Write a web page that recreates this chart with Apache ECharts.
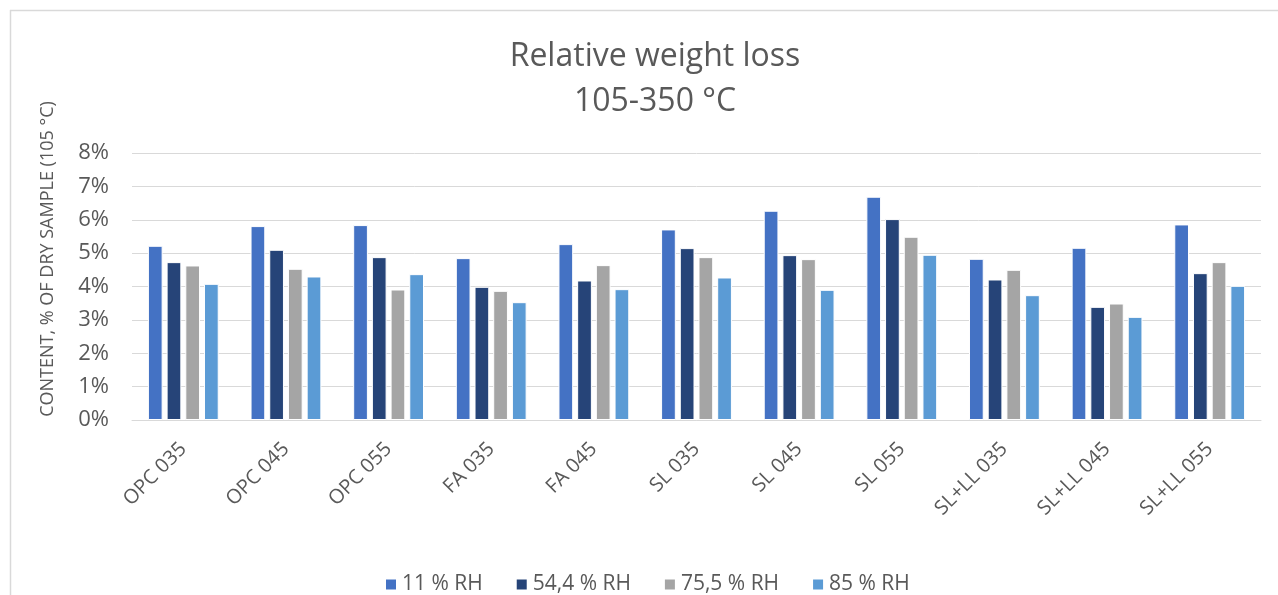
<!DOCTYPE html>
<html>
<head>
<meta charset="utf-8">
<script src="https://cdn.jsdelivr.net/npm/echarts@6/dist/echarts.min.js"></script>
<style>
html,body{margin:0;padding:0;background:#fff;}
#main{width:1278px;height:595px;}
</style>
</head>
<body>
<div id="main"></div>
<script>
var categories = ['OPC 035','OPC 045','OPC 055','FA 035','FA 045','SL 035','SL 045','SL 055','SL+LL 035','SL+LL 045','SL+LL 055'];
var seriesNames = ['11 % RH','54,4 % RH','75,5 % RH','85 % RH'];
var rh11  = [5.22, 5.81, 5.84, 4.85, 5.27, 5.71, 6.27, 6.69, 4.83, 5.16, 5.86];
var rh544 = [4.73, 5.10, 4.88, 3.99, 4.18, 5.15, 4.94, 6.02, 4.21, 3.39, 4.40];
var rh755 = [4.63, 4.53, 3.91, 3.87, 4.64, 4.88, 4.82, 5.49, 4.50, 3.49, 4.73];
var rh85  = [4.08, 4.30, 4.37, 3.53, 3.92, 4.27, 3.90, 4.95, 3.74, 3.09, 4.02];
var yTicks = [0,1,2,3,4,5,6,7,8];
var colors = ['#4472C4','#264478','#A5A5A5','#5B9BD5'];
var allData = [rh11, rh544, rh755, rh85];

var FONT = 'Open Sans';
var TXT = '#595959';

var chart = echarts.init(document.getElementById('main'));
chart.setOption({
  animation: false,
  color: colors,
  textStyle: {fontFamily: FONT, color: TXT},
  title: {
    text: 'Relative weight loss\n105-350 °C',
    left: 650,
    textAlign: 'center',
    top: 29,
    textStyle: {fontFamily: FONT, fontSize: 32, fontWeight: 'normal', color: TXT, lineHeight: 45}
  },
  graphic: [
    {type: 'line', shape: {x1: 10.5, y1: 10, x2: 10.5, y2: 595}, style: {stroke: '#d9d9d9', lineWidth: 1.5}},
    {type: 'line', shape: {x1: 10, y1: 10.5, x2: 1278, y2: 10.5}, style: {stroke: '#d9d9d9', lineWidth: 1.5}},
    {type: 'text', x: 48, y: 259, rotation: Math.PI / 2,
     style: {text: 'CONTENT, % OF DRY SAMPLE (105 °C)', fill: TXT, font: '18px "Open Sans"', textAlign: 'center', textVerticalAlign: 'middle'}}
  ],
  legend: {
    left: 379,
    top: 569,
    itemWidth: 12,
    itemHeight: 12,
    itemGap: 32,
    icon: 'rect',
    textStyle: {fontFamily: FONT, fontSize: 21, color: TXT},
    data: seriesNames
  },
  grid: {left: 132, right: 17, top: 153, bottom: 175, containLabel: false},
  xAxis: {
    type: 'category',
    data: categories,
    axisLine: {show: true, lineStyle: {color: '#d9d9d9', width: 1}},
    axisTick: {show: false},
    axisLabel: {rotate: 45, interval: 0, margin: 26, fontSize: 20, color: TXT, fontFamily: FONT}
  },
  yAxis: {
    type: 'value',
    min: yTicks[0],
    max: yTicks[yTicks.length - 1],
    interval: 1,
    axisLine: {show: false},
    axisTick: {show: false},
    splitLine: {lineStyle: {color: '#d9d9d9', width: 1}},
    axisLabel: {formatter: '{value}%', fontSize: 22, color: TXT, fontFamily: FONT, margin: 23}
  },
  series: seriesNames.map(function (n, i) {
    return {
      name: n,
      type: 'bar',
      data: allData[i],
      barGap: '27%',
      barCategoryGap: '31%',
      itemStyle: {color: colors[i], borderColor: '#ffffff', borderWidth: 1}
    };
  })
});
</script>
</body>
</html>
